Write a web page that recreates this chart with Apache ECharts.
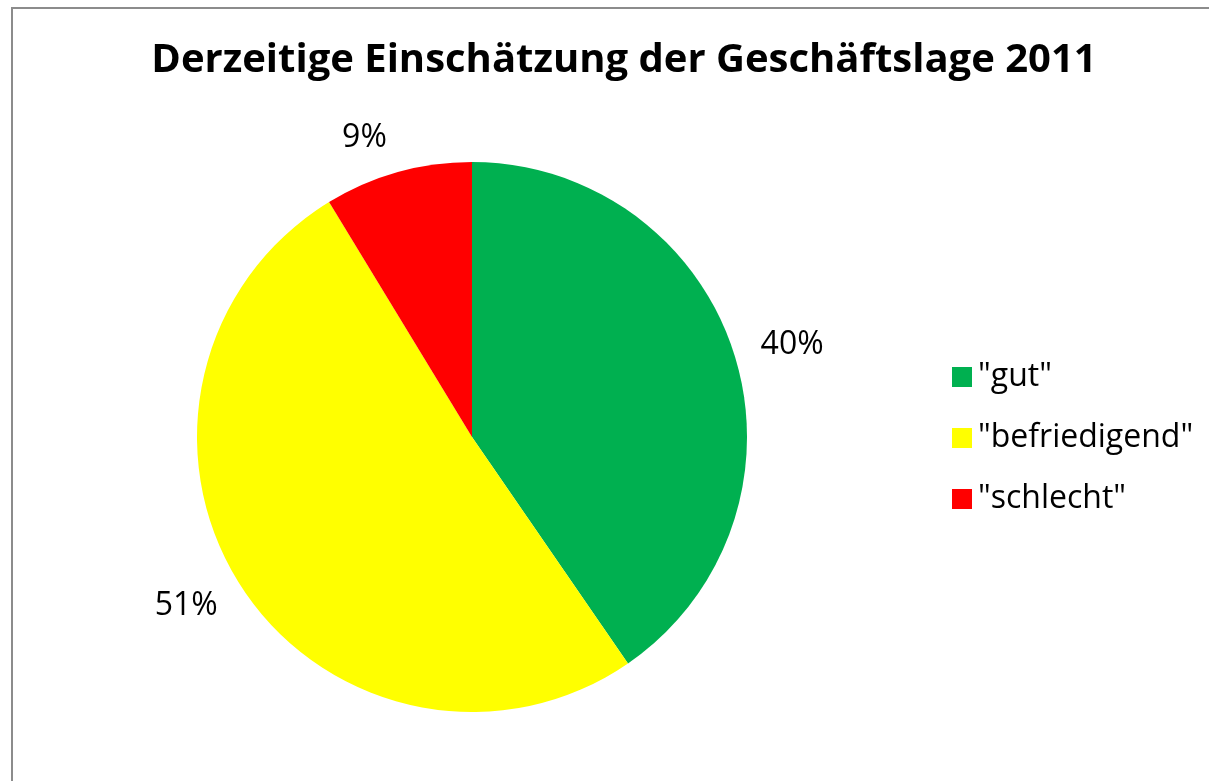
<!DOCTYPE html>
<html>
<head>
<meta charset="utf-8">
<style>
  html, body { margin: 0; padding: 0; background: #fff; }
  #chart { width: 1209px; height: 781px; }
</style>
<script src="https://cdn.jsdelivr.net/npm/echarts@6/dist/echarts.min.js"></script>
</head>
<body>
<div id="chart"></div>
<script>
var categories = ['"gut"', '"befriedigend"', '"schlecht"'];
var values = [40.4, 50.9, 8.7];
var colors = ["#00b050", "#ffff00", "#ff0000"];

var myChart = echarts.init(document.getElementById("chart"));
var fontFamily = "Open Sans";

// angle of each slice's middle, clockwise from 12 o'clock
var total = values.reduce(function (a, b) { return a + b; }, 0);
function midAngle(idx) {
  var before = 0;
  for (var i = 0; i < idx; i++) before += values[i];
  return ((before + values[idx] / 2) / total) * Math.PI * 2;
}

var option = {
  animation: false,
  title: {
    text: "Derzeitige Einschätzung der Geschäftslage 2011",
    left: 619,
    textAlign: "center",
    top: 36,
    textStyle: {
      fontFamily: fontFamily,
      fontSize: 40,
      fontWeight: "bold",
      color: "#000",
    },
  },
  legend: {
    orient: "vertical",
    left: 947,
    top: 356,
    itemWidth: 20,
    itemHeight: 20,
    itemGap: 29,
    icon: "rect",
    textStyle: {
      fontFamily: fontFamily,
      fontSize: 32,
      lineHeight: 32,
      color: "#000",
      padding: [0, 0, 0, 1],
    },
    data: categories,
  },
  graphic: [
    {
      type: "polyline",
      shape: { points: [[12, 790], [12, 8], [1220, 8]] },
      style: { stroke: "#8c8c8c", lineWidth: 2, fill: null },
    },
  ],
  series: [
    {
      type: "pie",
      center: [472, 437],
      radius: 275,
      startAngle: 90,
      clockwise: true,
      percentPrecision: 0,
      color: colors,
      data: categories.map(function (c, i) {
        return { name: c, value: values[i] };
      }),
      label: {
        show: true,
        position: "outside",
        formatter: "{d}%",
        fontFamily: fontFamily,
        fontSize: 32,
        color: "#000",
      },
      labelLine: { show: false, length: 22, length2: 0 },
      // push labels a little further away vertically, like Excel does
      labelLayout: function (params) {
        return { dy: -Math.cos(midAngle(params.dataIndex)) * 14 };
      },
      itemStyle: { borderWidth: 0 },
      emphasis: { disabled: true },
    },
  ],
};

myChart.setOption(option);
</script>
</body>
</html>
